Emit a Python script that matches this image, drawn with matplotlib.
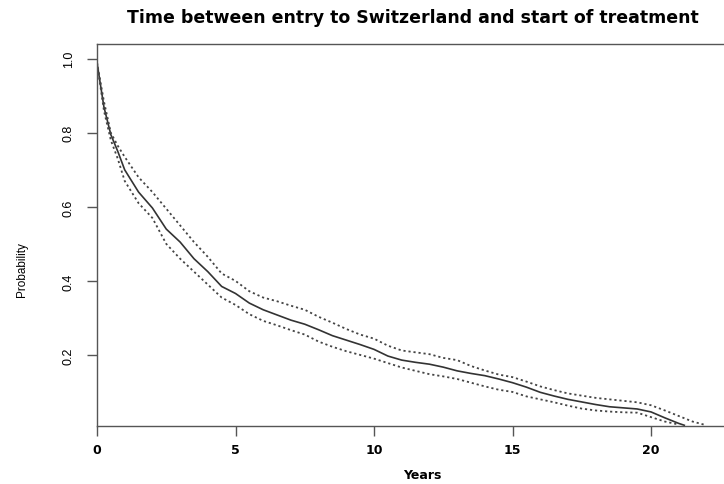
import numpy as np
import matplotlib
matplotlib.use("Agg")
import matplotlib.pyplot as plt

plt.rcParams['font.family'] = ['Liberation Sans', 'DejaVu Sans']

# Kaplan-Meier estimate
years = [0, 0.25, 0.5, 0.75, 1.0, 1.5, 2.0, 2.5, 3.0, 3.5, 4.0, 4.5, 5.0, 5.5, 6.0, 6.5,
         7.0, 7.5, 8.0, 8.5, 9.0, 9.5, 10.0, 10.5, 11.0, 11.5, 12.0, 12.5, 13.0, 13.5,
         14.0, 14.5, 15.0, 15.5, 16.0, 16.5, 17.0, 17.5, 18.0, 18.5, 19.0, 19.5, 20.0,
         20.5, 21.0, 21.2]
surv = [0.99, 0.87, 0.795, 0.75, 0.70, 0.64, 0.597, 0.54, 0.505, 0.46, 0.425, 0.385,
        0.366, 0.34, 0.322, 0.308, 0.294, 0.283, 0.268, 0.252, 0.24, 0.228, 0.215,
        0.197, 0.186, 0.18, 0.175, 0.167, 0.157, 0.15, 0.144, 0.135, 0.125, 0.113,
        0.099, 0.089, 0.08, 0.073, 0.066, 0.06, 0.057, 0.054, 0.046, 0.03, 0.015, 0.01]

# upper / lower confidence limits
years_up = years[:-1] + [21.5, 21.9]
upper = [0.99, 0.885, 0.80, 0.765, 0.735, 0.68, 0.64, 0.595, 0.55, 0.505, 0.465, 0.42,
         0.40, 0.372, 0.355, 0.345, 0.333, 0.322, 0.303, 0.287, 0.27, 0.255, 0.244,
         0.225, 0.212, 0.207, 0.202, 0.192, 0.186, 0.17, 0.158, 0.147, 0.14, 0.128,
         0.115, 0.105, 0.096, 0.09, 0.084, 0.08, 0.076, 0.072, 0.064, 0.05, 0.035,
         0.02, 0.012]

years_lo = years[:-1]
lower = [0.99, 0.86, 0.78, 0.73, 0.67, 0.61, 0.57, 0.50, 0.46, 0.425, 0.39, 0.355,
         0.335, 0.31, 0.292, 0.28, 0.267, 0.255, 0.236, 0.222, 0.21, 0.20, 0.19,
         0.178, 0.166, 0.157, 0.148, 0.142, 0.135, 0.125, 0.115, 0.106, 0.1, 0.088,
         0.08, 0.072, 0.063, 0.055, 0.05, 0.047, 0.045, 0.044, 0.032, 0.02, 0.012]

xticks = [0, 5, 10, 15, 20]
yticks = [0.2, 0.4, 0.6, 0.8, 1.0]

fig = plt.figure(figsize=(7.24, 4.85), dpi=100)
ax = fig.add_axes([97/724, 58/485, 651/724, 382/485])

ax.plot(years, surv, color="#333333", lw=1.2)
ax.plot(years_up, upper, color="#444444", lw=1.3, linestyle=(0, (1.2, 1.6)))
ax.plot(years_lo, lower, color="#444444", lw=1.3, linestyle=(0, (1.2, 1.6)))

ax.set_xlim(0, 23.5)
ax.set_ylim(0.008, 1.04)

ax.set_xticks(xticks)
ax.set_xticklabels([str(v) for v in xticks], fontsize=9, fontweight="bold",
                   family="DejaVu Sans")
ax.set_yticks(yticks)
ax.set_yticklabels(["%.1f" % v for v in yticks], fontsize=9, rotation=90, va="center")

ax.tick_params(axis="both", direction="out", length=7, width=1, color="#555555")
ax.tick_params(axis="x", pad=5)
ax.tick_params(axis="y", pad=9)
for s in ax.spines.values():
    s.set_color("#555555")
    s.set_linewidth(1)

fig.text(413/724, 1 - 18/485, "Time between entry to Switzerland and start of treatment",
         ha="center", va="center", fontsize=12.5, fontweight="bold", family="DejaVu Sans")
fig.text(422/724, 1 - 476/485, "Years", ha="center", va="center",
         fontsize=9, fontweight="bold", family="DejaVu Sans")
fig.text(22/724, 1 - 270/485, "Probability", ha="center", va="center",
         fontsize=8.5, rotation=90)

fig.savefig("out.png", dpi=100)
